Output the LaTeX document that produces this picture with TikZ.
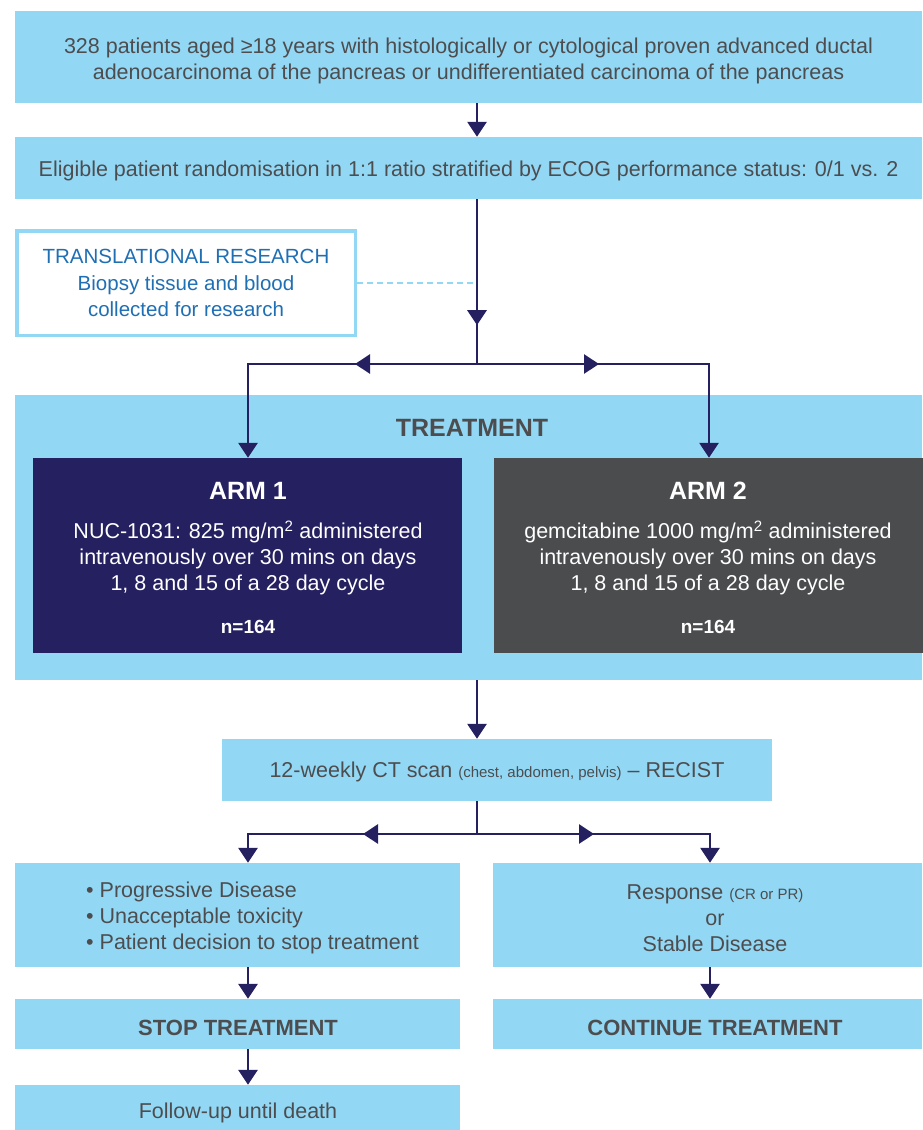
\documentclass[tikz,border=0pt]{standalone}
\usepackage{fontspec}
\setmainfont{Liberation Sans}
\usetikzlibrary{arrows.meta,decorations.markings}
\definecolor{lblue}{RGB}{146,216,245}
\definecolor{navy}{RGB}{37,32,96}
\definecolor{dgrey}{RGB}{75,76,78}
\definecolor{tgrey}{RGB}{77,77,79}
\definecolor{tblue}{RGB}{31,111,181}
\newcommand{\tup}[1]{\rule{0pt}{#1}}
\tikzset{
  navytip/.tip={Triangle[length=15pt,width=19pt,color=navy]},
  box/.style={fill=lblue, draw=none, inner sep=0pt, text=tgrey, align=center,
    font=\fontsize{21.5}{26}\selectfont},
  transbox/.style={fill=white, draw=lblue, line width=3.5pt, inner sep=0pt, text=tblue,
    align=center, font=\fontsize{20.5}{26.5}\selectfont,
    minimum width=338.5pt, minimum height=104.5pt},
  armbox/.style={draw=none, inner sep=0pt, minimum width=429pt, minimum height=195pt},
  armtitle/.style={text=white, inner sep=0pt, font=\fontsize{25}{28}\bfseries},
  armtext/.style={text=white, inner sep=0pt, align=center, font=\fontsize{21.5}{26}\selectfont},
  armn/.style={text=white, inner sep=0pt, font=\fontsize{19}{22}\bfseries},
  txt/.style={text=tgrey, inner sep=0pt, font=\fontsize{21.5}{26}\selectfont},
  conn/.style={draw=navy, line width=2.8pt},
  arr/.style={conn, -{navytip}},
  midarr/.style={postaction={decorate}, decoration={markings, mark=at position #1 with {\arrow{navytip}}}},
  dashline/.style={draw=lblue, line width=2pt, dash pattern=on 6pt off 4pt},
}
\begin{document}
\begin{tikzpicture}[x=1pt,y=-1pt]
\useasboundingbox (0,0) rectangle (922,1130);
% boxes
\node[box, minimum width=907pt, minimum height=92pt] (top) at (468.5,57)
  {\tup{23pt}328 patients aged ≥18 years with histologically or cytological proven advanced ductal\\adenocarcinoma of the pancreas or undifferentiated carcinoma of the pancreas};
\node[box, minimum width=907pt, minimum height=62pt] (elig) at (468.5,168)
  {\tup{22pt}Eligible patient randomisation in 1:1 ratio stratified by ECOG performance status: 0/1 vs. 2};
\node[transbox] (trans) at (186,283)
  {TRANSLATIONAL RESEARCH\\Biopsy tissue and blood\\collected for research};
\node[box, minimum width=907pt, minimum height=285pt] (treat) at (468.5,537.5) {};
\node[txt, font=\fontsize{25}{28}\bfseries] (treatlbl) at (472,428) {TREATMENT};
\node[armbox, fill=navy] (arm1) at (247.5,555.5) {};
\node[armbox, fill=dgrey] (arm2) at (708,555.5) {};
\node[armtitle] (arm1t) at (248,491) {ARM 1};
\node[armtext] (arm1b) at (248,558) {NUC-1031: 825 mg/m\textsuperscript{2} administered\\intravenously over 30 mins on days\\1, 8 and 15 of a 28 day cycle};
\node[armn] (arm1n) at (248,627) {n=164};
\node[armtitle] (arm2t) at (708,491) {ARM 2};
\node[armtext] (arm2b) at (708,558) {gemcitabine 1000 mg/m\textsuperscript{2} administered\\intravenously over 30 mins on days\\1, 8 and 15 of a 28 day cycle};
\node[armn] (arm2n) at (708,627) {n=164};
\node[box, minimum width=550pt, minimum height=62pt] (ct) at (497,770)
  {\tup{20pt}12-weekly CT scan {\fontsize{15}{18}\selectfont (chest, abdomen, pelvis)} – RECIST};
\node[box, minimum width=445pt, minimum height=104pt] (left) at (237.5,915) {};
\node[txt, anchor=west, align=left] (lefttxt) at (86,918)
  {• Progressive Disease\\• Unacceptable toxicity\\• Patient decision to stop treatment};
\node[box, minimum width=429pt, minimum height=104pt] (right) at (707.5,915) {};
\node[txt, align=center] (righttxt) at (715,918)
  {Response {\fontsize{15}{18}\selectfont (CR or PR)}\\or\\Stable Disease};
\node[box, minimum width=445pt, minimum height=50pt] (stop) at (237.5,1024) {};
\node[txt, font=\fontsize{22}{26}\bfseries] (stoptxt) at (238,1028) {STOP TREATMENT};
\node[box, minimum width=429pt, minimum height=50pt] (cont) at (707.5,1024) {};
\node[txt, font=\fontsize{22}{26}\bfseries] (conttxt) at (715,1028) {CONTINUE TREATMENT};
\node[box, minimum width=445pt, minimum height=45pt] (follow) at (237.5,1107.5) {};
\node[txt] (followtxt) at (238,1112.5) {Follow-up until death};
% branch points
\coordinate (s1) at (477,364);
\coordinate (l1) at (248,364);
\coordinate (r1) at (709,364);
\coordinate (dv) at (477,283);
\coordinate (s2) at (477,834);
\coordinate (l2) at (248,834);
\coordinate (r2) at (710,834);
% connectors
\draw[dashline] (trans.east) -- (dv);
\draw[arr] (top.south -| s1) -- (elig.north -| s1);
\draw[conn, midarr=126pt] (elig.south -| s1) -- (s1);
\draw[arr, midarr=122pt] (s1) -- (l1) -- (l1 |- arm1.north);
\draw[arr, midarr=122pt] (s1) -- (r1) -- (r1 |- arm2.north);
\draw[arr] (treat.south -| s1) -- (ct.north -| s1);
\draw[conn] (ct.south -| s1) -- (s2);
\draw[arr, midarr=114pt] (s2) -- (l2) -- (l2 |- left.north);
\draw[arr, midarr=117pt] (s2) -- (r2) -- (r2 |- right.north);
\draw[arr] (left.south -| l2) -- (stop.north -| l2);
\draw[arr] (right.south -| r2) -- (cont.north -| r2);
\draw[arr] (stop.south -| l2) -- (follow.north -| l2);
\end{tikzpicture}
\end{document}
